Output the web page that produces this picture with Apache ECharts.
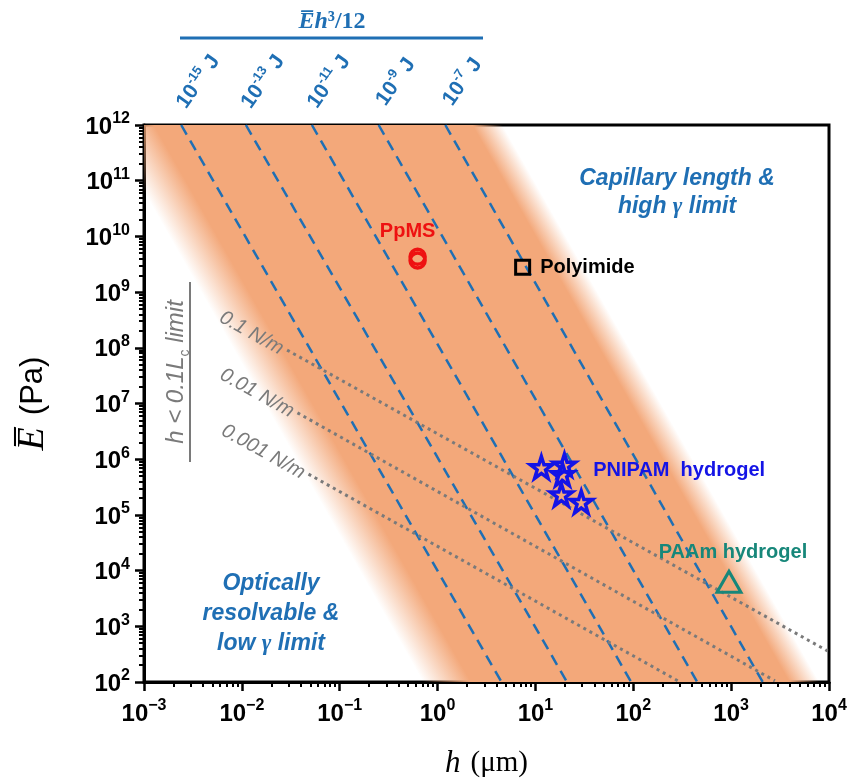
<!DOCTYPE html>
<html>
<head>
<meta charset="utf-8">
<script src="https://cdn.jsdelivr.net/npm/echarts@6/dist/echarts.min.js"></script>
<style>html,body{margin:0;padding:0;background:#fff}#chart{width:855px;height:783px}</style>
</head>
<body>
<div id="chart"></div>
<script>
// h in um, E in Pa
const bendLabels = ['-15', '-13', '-11', '-9', '-7'];
const bendTopH = [2.4e-3, 1.1e-2, 5.2e-2, 0.25, 1.2];
const bendBottomH = [4.5, 21, 95, 450, 2100];
const eTop = 1e12, eBottom = 1e2;

const tensionLabels = ['0.1 N/m', '0.01 N/m', '0.001 N/m'];
const tensionStart = [[0.029, 9.1e7], [0.037, 6.8e6], [0.048, 5.4e5]];
const tensionEnd = [[9700, 360], [2800, 105], [300, 100]];

const bandLeft = [[7.2e-4, 1e12], [1.25, 1e2]];
const bandRight = [[3.4, 1e12], [5600, 1e2]];

const ppmsH = [0.625, 0.625];
const ppmsE = [4.3e9, 3.7e9];
const polyimideH = [7.4];
const polyimideE = [2.8e9];
const pnipamH = [11.5, 19.8, 18.9, 18.4, 29.4];
const pnipamE = [7.1e5, 7.9e5, 5.3e5, 2.3e5, 1.7e5];
const paamH = [950];
const paamE = [6.3e3];

const blue = '#1F6FB4';
const gray = '#7A7A7A';
const orange = [243, 168, 122];
const sans = 'Liberation Sans';
const serif = 'Liberation Serif';

const starPath = 'path://M50,2 L61,36 L97,36 L68,57 L79,92 L50,71 L21,92 L32,57 L3,36 L39,36 Z';

let chart = echarts.init(document.getElementById('chart'));

const tickRich = {
    b: { fontSize: 24, fontWeight: 'bold', fontFamily: sans, color: '#000', lineHeight: 28, verticalAlign: 'bottom' },
    s: { fontSize: 16, fontWeight: 'bold', fontFamily: sans, color: '#000', verticalAlign: 'top' }
};
function powLabel(v) {
    const e = Math.round(Math.log10(v));
    return '{b|10}{s|' + (e < 0 ? '\u2212' + (-e) : e) + '}';
}

function renderBand(params, api) {
    const lt = api.coord(bandLeft[0]), lb = api.coord(bandLeft[1]);
    const rt = api.coord(bandRight[0]), rb = api.coord(bandRight[1]);
    const fl = 24, fr = 15;
    const pts = [[lt[0] - fl, lt[1]], [rt[0] + fr, rt[1]], [rb[0] + fr, rb[1]], [lb[0] - fl, lb[1]]];
    let ex = lb[0] - lt[0], ey = lb[1] - lt[1];
    const len = Math.hypot(ex, ey);
    ex /= len; ey /= len;
    const nx = ey, ny = -ex;
    const sx = lb[0] - fl, sy = lb[1];
    const w = (rb[0] + fr - sx) * nx;
    const a = 2 * fl * nx / w, b = 1 - 2 * fr * nx / w;
    const c = 'rgba(' + orange.join(',');
    return {
        type: 'polygon',
        shape: { points: pts },
        style: {
            fill: new echarts.graphic.LinearGradient(sx, sy, sx + nx * w, sy + ny * w, [
                { offset: 0, color: c + ',0)' },
                { offset: a, color: c + ',1)' },
                { offset: b, color: c + ',1)' },
                { offset: 1, color: c + ',0)' }
            ], true)
        }
    };
}

const bendSeries = bendLabels.map((lab, i) => ({
    type: 'line', z: 3, silent: true, clip: false,
    symbol: 'circle', symbolSize: 0, showSymbol: true,
    lineStyle: { color: blue, width: 2.5, type: [11, 7] },
    data: [
        {
            value: [bendTopH[i], eTop],
            label: {
                show: true, position: [16, -44], align: 'center', verticalAlign: 'middle', rotate: 55,
                formatter: '{b|10}{s|' + lab + '}{b| J}',
                rich: {
                    b: { fontSize: 21, fontWeight: 'bold', fontFamily: sans, color: blue, lineHeight: 24, verticalAlign: 'bottom' },
                    s: { fontSize: 13, fontWeight: 'bold', fontFamily: sans, color: blue, verticalAlign: 'top' }
                }
            }
        },
        [bendBottomH[i], eBottom]
    ]
}));

const tensionSeries = tensionLabels.map((lab, i) => ({
    type: 'line', z: 4, silent: true, clip: false,
    symbol: 'circle', symbolSize: 0, showSymbol: true,
    lineStyle: { color: gray, width: 3, type: [3, 4] },
    data: [
        {
            value: tensionStart[i],
            label: {
                show: true, position: 'left', distance: 5, rotate: -29,
                formatter: lab, color: gray, fontSize: 20, fontStyle: 'italic', fontFamily: sans
            }
        },
        tensionEnd[i]
    ]
}));

function pairs(hs, es) {
    return hs.map((h, i) => [h, es[i]]);
}
const labelFont = { fontSize: 20, fontWeight: 'bold', fontFamily: sans };

const ppmsData = pairs(ppmsH, ppmsE);
ppmsData[0] = { value: ppmsData[0], label: Object.assign({ show: true, position: 'top', distance: 6, offset: [-10, 0], formatter: 'PpMS', color: '#EE1111' }, labelFont) };
const polyData = pairs(polyimideH, polyimideE);
polyData[0] = { value: polyData[0], label: Object.assign({ show: true, position: 'right', distance: 9, formatter: 'Polyimide', color: '#000' }, labelFont) };
const pnipamData = pairs(pnipamH, pnipamE);
pnipamData[1] = { value: pnipamData[1], label: Object.assign({ show: true, position: 'right', distance: 16, offset: [0, 6], formatter: 'PNIPAM  hydrogel', color: '#1414E6' }, labelFont) };
const paamData = pairs(paamH, paamE);
paamData[0] = { value: paamData[0], label: Object.assign({ show: true, position: 'top', distance: 7, offset: [4, 0], formatter: 'PAAm hydrogel', color: '#17877A' }, labelFont) };

const clear = 'rgba(0,0,0,0)';

let option = {
    animation: false,
    backgroundColor: '#fff',
    grid: { left: 144, right: 26, top: 125, bottom: 101, show: true, borderColor: '#000', borderWidth: 3, outerBoundsMode: 'none' },
    xAxis: {
        type: 'log', logBase: 10, min: 1e-3, max: 1e4, interval: 1,
        axisLine: { show: true, onZero: false, lineStyle: { color: '#000', width: 3 } },
        axisTick: { show: true, length: 9, lineStyle: { color: '#000', width: 2.5 } },
        minorTick: { show: true, splitNumber: 9, length: 5, lineStyle: { color: '#000', width: 2 } },
        splitLine: { show: false },
        minorSplitLine: { show: false },
        axisLabel: { margin: 16, formatter: powLabel, rich: tickRich },
        name: '{h|h}{sp| }{u|(\u03bcm)}',
        nameLocation: 'middle', nameGap: 66,
        nameTextStyle: {
            rich: {
                h: { fontFamily: serif, fontStyle: 'italic', fontSize: 31, color: '#000' },
                sp: { fontFamily: serif, fontSize: 31, width: 10 },
                u: { fontFamily: serif, fontSize: 29, color: '#000' }
            }
        }
    },
    yAxis: {
        type: 'log', logBase: 10, min: 1e2, max: 1e12, interval: 1,
        axisLine: { show: true, onZero: false, lineStyle: { color: '#000', width: 3 } },
        axisTick: { show: true, length: 9, lineStyle: { color: '#000', width: 2.5 } },
        minorTick: { show: true, splitNumber: 9, length: 5, lineStyle: { color: '#000', width: 2 } },
        splitLine: { show: false },
        minorSplitLine: { show: false },
        axisLabel: { margin: 14, formatter: powLabel, rich: tickRich },
        name: '{e|E\u0305}{sp| }{u|(Pa)}',
        nameLocation: 'middle', nameGap: 92, nameRotate: 90,
        nameTextStyle: {
            rich: {
                e: { fontFamily: serif, fontStyle: 'italic', fontSize: 38, color: '#000' },
                sp: { fontFamily: sans, fontSize: 31, width: 12 },
                u: { fontFamily: sans, fontSize: 31, color: '#000' }
            }
        }
    },
    series: [
        { type: 'custom', z: 1, silent: true, clip: true, renderItem: renderBand, data: [[1, 1e6]] },
        ...bendSeries,
        ...tensionSeries,
        {
            type: 'scatter', z: 6, data: ppmsData, symbol: 'circle', symbolSize: 15,
            itemStyle: { color: clear, borderColor: '#EE1111', borderWidth: 3.5, opacity: 1 }
        },
        {
            type: 'scatter', z: 6, data: polyData, symbol: 'rect', symbolSize: 14,
            itemStyle: { color: clear, borderColor: '#000', borderWidth: 3, opacity: 1 }
        },
        {
            type: 'scatter', z: 6, data: pnipamData, symbol: starPath, symbolSize: 22,
            itemStyle: { color: clear, borderColor: '#1414E6', borderWidth: 3.5, opacity: 1 }
        },
        {
            type: 'scatter', z: 6, data: paamData, symbol: 'triangle', symbolSize: [24, 21],
            itemStyle: { color: clear, borderColor: '#17877A', borderWidth: 3, opacity: 1 }
        }
    ],
    graphic: [
        {
            type: 'text', x: 332, y: 22, z: 100,
            style: {
                text: '{e|E\u0305}{e|h}{n|\u00b3/12}',
                align: 'center', verticalAlign: 'middle', textAlign: 'center', textVerticalAlign: 'middle',
                rich: {
                    e: { fontFamily: serif, fontStyle: 'italic', fontWeight: 'bold', fontSize: 24, fill: blue, color: blue },
                    n: { fontFamily: serif, fontWeight: 'bold', fontSize: 24, fill: blue, color: blue }
                }
            }
        },
        { type: 'line', z: 100, shape: { x1: 180, y1: 38, x2: 483, y2: 38 }, style: { stroke: blue, lineWidth: 3 } },
        { type: 'line', z: 100, shape: { x1: 190, y1: 282, x2: 190, y2: 462 }, style: { stroke: gray, lineWidth: 2 } },
        {
            type: 'text', x: 178, y: 372, z: 100, rotation: Math.PI / 2,
            style: {
                text: '{t|h < 0.1L}{c|c}{t| limit}',
                align: 'center', verticalAlign: 'middle', textAlign: 'center', textVerticalAlign: 'middle',
                rich: {
                    t: { fontFamily: sans, fontStyle: 'italic', fontSize: 24, fill: gray, color: gray, lineHeight: 28, verticalAlign: 'top' },
                    c: { fontFamily: sans, fontSize: 14, fill: gray, color: gray, verticalAlign: 'bottom' }
                }
            }
        },
        {
            type: 'text', x: 677, y: 193, z: 100,
            style: {
                text: '{a|Capillary length &}\n{a|high }{g|\u03b3}{a| limit}',
                align: 'center', verticalAlign: 'middle', textAlign: 'center', textVerticalAlign: 'middle',
                rich: {
                    a: { fontFamily: sans, fontStyle: 'italic', fontWeight: 'bold', fontSize: 23, lineHeight: 28, fill: blue, color: blue },
                    g: { fontFamily: serif, fontStyle: 'italic', fontWeight: 'bold', fontSize: 23, lineHeight: 28, fill: blue, color: blue }
                }
            }
        },
        {
            type: 'text', x: 271, y: 614, z: 100,
            style: {
                text: '{a|Optically}\n{a|resolvable &}\n{a|low }{g|\u03b3}{a| limit}',
                align: 'center', verticalAlign: 'middle', textAlign: 'center', textVerticalAlign: 'middle',
                rich: {
                    a: { fontFamily: sans, fontStyle: 'italic', fontWeight: 'bold', fontSize: 23, lineHeight: 30, fill: blue, color: blue },
                    g: { fontFamily: serif, fontStyle: 'italic', fontWeight: 'bold', fontSize: 23, lineHeight: 30, fill: blue, color: blue }
                }
            }
        }
    ]
};

option && chart.setOption(option);
</script>
</body>
</html>
